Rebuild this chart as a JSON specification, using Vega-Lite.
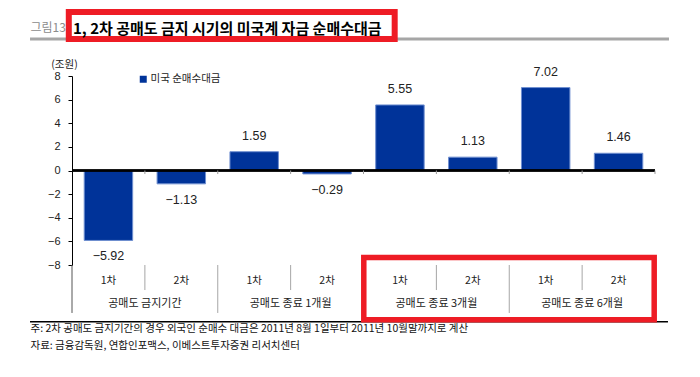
{
  "$schema": "https://vega.github.io/schema/vega-lite/v6.json",
  "width": 583,
  "height": 189,
  "autosize": "none",
  "padding": {"left": 72, "top": 76, "right": 45, "bottom": 112},
  "background": "white",
  "config": {"view": {"stroke": null}, "font": "Noto Sans CJK KR", "axis": {"labelOverlap": false}, "axisY": {"labelOverlap": false, "tickCount": 8}},
  "title": {
    "text": "1, 2차 공매도 금지 시기의 미국계 자금 순매수대금",
    "anchor": "start",
    "frame": "group",
    "dx": 1,
    "dy": 28,
    "offset": 0,
    "fontSize": 15,
    "fontWeight": "bold",
    "color": "#000000",
    "font": "Noto Sans CJK KR"
  },
  "datasets": {
    "bars": [
      {"group": "공매도 금지기간", "round": "1차", "key": "공매도 금지기간 1차", "value": -5.92},
      {"group": "공매도 금지기간", "round": "2차", "key": "공매도 금지기간 2차", "value": -1.13},
      {"group": "공매도 종료 1개월", "round": "1차", "key": "공매도 종료 1개월 1차", "value": 1.59},
      {"group": "공매도 종료 1개월", "round": "2차", "key": "공매도 종료 1개월 2차", "value": -0.29},
      {"group": "공매도 종료 3개월", "round": "1차", "key": "공매도 종료 3개월 1차", "value": 5.55},
      {"group": "공매도 종료 3개월", "round": "2차", "key": "공매도 종료 3개월 2차", "value": 1.13},
      {"group": "공매도 종료 6개월", "round": "1차", "key": "공매도 종료 6개월 1차", "value": 7.02},
      {"group": "공매도 종료 6개월", "round": "2차", "key": "공매도 종료 6개월 2차", "value": 1.46}
    ]
  },
  "layer": [
    {
      "data": {"values": [{}]},
      "layer": [
        {
          "mark": {"type": "rule", "color": "#a6a6a6", "strokeWidth": 3},
          "encoding": {
            "x": {"datum": -0.576, "type": "quantitative", "scale": {"domain": [0, 8], "nice": false, "zero": false}, "axis": null},
            "x2": {"datum": 8.192},
            "y": {"datum": 11.13, "type": "quantitative"}
          }
        },
        {
          "mark": {"type": "rule", "color": "#000000", "strokeWidth": 1.5},
          "encoding": {
            "x": {"datum": -0.576, "type": "quantitative"},
            "x2": {"datum": 8.178},
            "y": {"datum": -12.8, "type": "quantitative"}
          }
        },
        {
          "mark": {"type": "rect", "fill": "white", "stroke": "#ee1c25", "strokeWidth": 6},
          "encoding": {
            "x": {"datum": -0.044, "type": "quantitative"},
            "x2": {"datum": 4.428},
            "y": {"datum": 13.418, "type": "quantitative"},
            "y2": {"datum": 11.132}
          }
        }
      ]
    },
    {
      "data": {"name": "bars"},
      "layer": [
        {
          "mark": {"type": "bar", "width": {"band": 0.665}, "stroke": "#6f8fd0", "strokeWidth": 1},
          "encoding": {
            "x": {
              "field": "key", "type": "nominal", "sort": null,
              "scale": {"paddingInner": 0, "paddingOuter": 0},
              "axis": {
                "orient": "bottom", "domain": false, "ticks": false, "tickSize": 0,
                "labelExpr": "peek(split(datum.value, ' '))",
                "labelAngle": 0, "labelFontSize": 10.5, "labelColor": "#222222",
                "labelPadding": 15, "labelBaseline": "middle",
                "title": "그림13", "titleX": -42, "titleY": -238, "titleAlign": "left",
                "titleBaseline": "middle", "titleFontSize": 12, "titleFontWeight": "normal",
                "titleColor": "#8c8c8c"
              }
            },
            "y": {
              "field": "value", "type": "quantitative",
              "scale": {"domain": [-8, 8], "nice": false},
              "axis": {
                "tickCount": 8,
                "labelOverlap": false,
                "labelSeparation": 0,
                "title": "(조원)", "titleAngle": 0, "titleX": -8, "titleY": -12,
                "titleAlign": "center", "titleBaseline": "middle", "titleFontSize": 10.5,
                "titleFontWeight": "normal", "titleColor": "#222222",
                "grid": false, "domainColor": "#000000", "tickColor": "#000000",
                "tickSize": 4, "labelPadding": 8, "labelFontSize": 11,
                "labelFont": "Liberation Sans", "labelColor": "#222222"
              }
            },
            "color": {
              "datum": "미국 순매수대금",
              "scale": {"range": ["#003399"]},
              "legend": {
                "orient": "none", "legendX": 66, "legendY": -2, "title": null,
                "symbolType": "square", "symbolSize": 49, "symbolStrokeWidth": 0,
                "labelFontSize": 10.5, "labelOffset": 2, "padding": 0, "labelColor": "#222222"
              }
            }
          }
        },
        {
          "mark": {"type": "rule", "color": "#000000", "strokeWidth": 1.5},
          "encoding": {"y": {"datum": 0, "type": "quantitative"}}
        },
        {
          "transform": [{"filter": "datum.key != '공매도 금지기간 1차'"}],
          "mark": {"type": "rule", "color": "#999999", "strokeWidth": 1},
          "encoding": {
            "x": {"field": "key", "type": "nominal", "sort": null, "bandPosition": 0},
            "y": {"datum": 0, "type": "quantitative"},
            "y2": {"datum": -0.3}
          }
        },
        {
          "transform": [{"filter": "datum.key == '공매도 종료 6개월 2차'"}],
          "mark": {"type": "rule", "color": "#999999", "strokeWidth": 1},
          "encoding": {
            "x": {"field": "key", "type": "nominal", "sort": null, "bandPosition": 1},
            "y": {"datum": 0, "type": "quantitative"},
            "y2": {"datum": -0.3}
          }
        },
        {
          "transform": [{"filter": "datum.round == '2차'"}],
          "mark": {"type": "rule", "color": "#a6a6a6", "strokeWidth": 1},
          "encoding": {
            "x": {"field": "key", "type": "nominal", "sort": null, "bandPosition": 0},
            "y": {"datum": -8, "type": "quantitative"},
            "y2": {"datum": -10.12}
          }
        },
        {
          "transform": [{"filter": "datum.value >= 0"}],
          "mark": {"type": "text", "dy": -16, "baseline": "middle", "fontSize": 12.5, "font": "Liberation Sans Narrow, Liberation Sans", "color": "#222222"},
          "encoding": {
            "x": {"field": "key", "type": "nominal", "sort": null},
            "y": {"field": "value", "type": "quantitative"},
            "text": {"field": "value", "type": "quantitative", "format": ".2f"}
          }
        },
        {
          "transform": [{"filter": "datum.value < 0"}],
          "mark": {"type": "text", "dy": 16, "baseline": "middle", "fontSize": 12.5, "font": "Liberation Sans Narrow, Liberation Sans", "color": "#222222"},
          "encoding": {
            "x": {"field": "key", "type": "nominal", "sort": null},
            "y": {"field": "value", "type": "quantitative"},
            "text": {"field": "value", "type": "quantitative", "format": ".2f"}
          }
        }
      ]
    },
    {
      "data": {"name": "bars"},
      "transform": [{"filter": "datum.round == '1차'"}],
      "mark": {"type": "rule", "strokeWidth": 1},
      "encoding": {
        "x": {
          "field": "group", "type": "nominal", "sort": null, "bandPosition": 0,
          "scale": {"paddingInner": 0, "paddingOuter": 0},
          "axis": {
            "orient": "bottom", "domain": false, "ticks": false, "tickSize": 0,
            "labelAngle": 0, "labelPadding": 38, "labelBaseline": "middle",
            "labelFontSize": 11, "labelColor": "#222222",
            "title": ["주: 2차 공매도 금지기간의 경우 외국인 순매수 대금은 2011년 8월 1일부터 2011년 10월말까지로 계산", "자료: 금융감독원, 연합인포맥스, 이베스트투자증권 리서치센터"],
            "titleX": -42, "titleY": 58, "titleAlign": "left", "titleBaseline": "top",
            "titleFontSize": 10.5, "titleFontWeight": "normal", "titleLineHeight": 17,
            "titleColor": "#111111"
          }
        },
        "y": {"datum": -8, "type": "quantitative"},
        "y2": {"datum": -12.06},
        "color": {"condition": {"test": "datum.group == '공매도 금지기간'", "value": "#555555"}, "value": "#a6a6a6"}
      }
    },
    {
      "data": {"values": [{}]},
      "mark": {"type": "rect", "fillOpacity": 0, "stroke": "#ee1c25", "strokeWidth": 5.5},
      "encoding": {
        "x": {"datum": 4.004, "type": "quantitative", "scale": {"domain": [0, 8], "nice": false, "zero": false}, "axis": null},
        "x2": {"datum": 7.989},
        "y": {"datum": -7.365, "type": "quantitative"},
        "y2": {"datum": -12.63}
      }
    }
  ],
  "resolve": {"scale": {"x": "independent"}, "axis": {"x": "independent"}}
}
